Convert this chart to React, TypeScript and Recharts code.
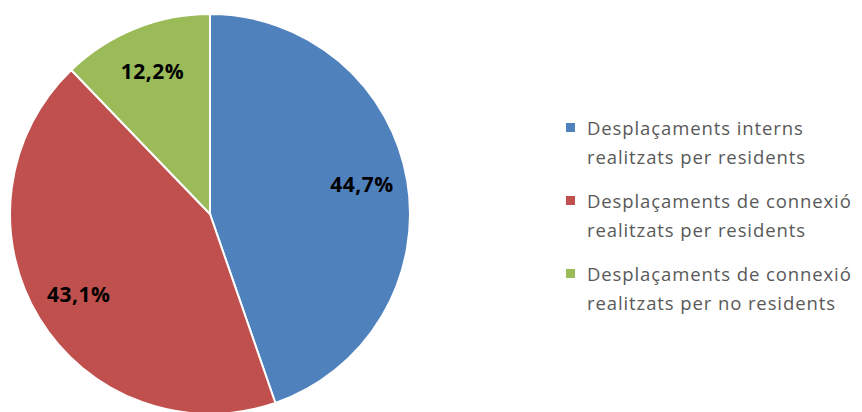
import React from 'react';
import { PieChart, Pie, Cell, Legend } from 'recharts';

// slice labels and shares (%)
const categories = [
    'Desplaçaments interns realitzats per residents',
    'Desplaçaments de connexió realitzats per residents',
    'Desplaçaments de connexió realitzats per no residents',
];
const legendLines = [
    ['Desplaçaments interns', 'realitzats per residents'],
    ['Desplaçaments de connexió', 'realitzats per residents'],
    ['Desplaçaments de connexió', 'realitzats per no residents'],
];
const shares = [44.7, 43.1, 12.2];
const colors = ['#4F81BD', '#C0504D', '#9BBB59'];

const data = categories.map((name, i) => ({ name, value: shares[i] }));

const RADIAN = Math.PI / 180;

const renderLabel = (props: any) => {
    const { cx, cy, midAngle, outerRadius, value } = props;
    const r = outerRadius * 0.77;
    const x = cx + r * Math.cos(-midAngle * RADIAN);
    const y = cy + r * Math.sin(-midAngle * RADIAN);
    return (
        <text
            x={x}
            y={y - (midAngle < 90 && midAngle > 0 ? 4 : 0)}
            fill="#000"
            textAnchor="middle"
            dominantBaseline="central"
            style={{ fontFamily: 'Open Sans', fontWeight: 700, fontSize: 21, letterSpacing: 0.5 }}
        >
            {value.toFixed(1).replace('.', ',') + '%'}
        </text>
    );
};

const renderLegend = () => (
    <div style={{ fontFamily: 'Open Sans', fontSize: 18.5, letterSpacing: 0.9, color: '#595959' }}>
        {legendLines.map((lines, i) => (
            <div key={i} style={{ display: 'flex', alignItems: 'flex-start', marginBottom: 15 }}>
                <div
                    style={{
                        width: 9,
                        height: 9,
                        background: colors[i],
                        marginTop: 10,
                        marginRight: 12,
                        flexShrink: 0,
                    }}
                />
                <div style={{ lineHeight: '29px', whiteSpace: 'nowrap' }}>
                    {lines.map((l, j) => (
                        <div key={j}>{l}</div>
                    ))}
                </div>
            </div>
        ))}
    </div>
);

export default function App() {
    return (
        <div style={{ width: 862, height: 412, background: '#fff', overflow: 'hidden' }}>
            <style>{'body{margin:0}'}</style>
            <PieChart width={862} height={412} margin={{ top: 0, right: 0, bottom: 0, left: 0 }}>
                <Pie
                    data={data}
                    dataKey="value"
                    nameKey="name"
                    cx={210}
                    cy={214}
                    outerRadius={200}
                    startAngle={90}
                    endAngle={-270}
                    stroke="#fff"
                    strokeWidth={2}
                    label={renderLabel}
                    labelLine={false}
                    isAnimationActive={false}
                >
                    {data.map((d, i) => (
                        <Cell key={d.name} fill={colors[i]} />
                    ))}
                </Pie>
                <Legend
                    content={renderLegend}
                    layout="vertical"
                    wrapperStyle={{ left: 566, top: 113, width: 296 }}
                />
            </PieChart>
        </div>
    );
}
